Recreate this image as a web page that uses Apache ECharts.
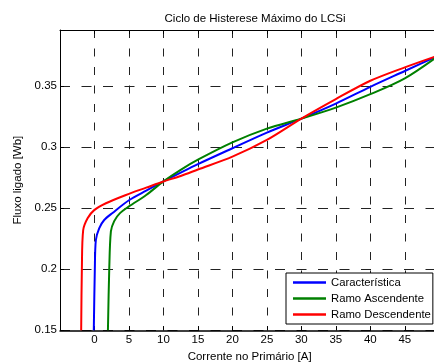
<!DOCTYPE html>
<html>
<head>
<meta charset="utf-8">
<title>Ciclo de Histerese</title>
<script src="https://cdn.jsdelivr.net/npm/echarts@6/dist/echarts.min.js"></script>
<style>
  html, body { margin: 0; padding: 0; background: #fff; }
  #chart { width: 434px; height: 362px; }
</style>
</head>
<body>
<div id="chart"></div>
<script>
// Característica
const caracX = [-0.1, 0.05, 0.2, 0.68, 1.41, 2.62, 5, 7.5, 10, 12.5, 15, 20, 25, 30, 35, 40, 45, 50];
const caracY = [0.15, 0.2, 0.224, 0.2336, 0.2404, 0.2462, 0.2566, 0.2644, 0.272, 0.2792, 0.2862, 0.2992, 0.312, 0.3235, 0.3358, 0.3495, 0.3625, 0.3755];

// Ramo Ascendente
const ascX = [1.95, 2.14, 2.38, 2.86, 3.7, 5, 7.5, 10, 12.5, 15, 20, 25, 30, 35, 40, 45, 50];
const ascY = [0.15, 0.2, 0.231, 0.2395, 0.246, 0.2515, 0.2609, 0.272, 0.2815, 0.2898, 0.304, 0.3153, 0.3235, 0.3325, 0.3435, 0.3565, 0.3755];

// Ramo Descendente
const descX = [-1.93, -1.83, -1.64, -1.0, -0.04, 1.66, 4.56, 7.5, 10, 12.5, 15, 20, 25, 30, 35, 40, 45, 50];
const descY = [0.15, 0.2, 0.232, 0.2418, 0.2485, 0.2541, 0.2609, 0.2669, 0.272, 0.2765, 0.2818, 0.2923, 0.306, 0.3235, 0.3395, 0.3545, 0.3655, 0.3755];

const seriesNames = ['Característica', 'Ramo Ascendente', 'Ramo Descendente'];
const seriesColors = ['#0000ff', '#008000', '#ff0000'];

const xTicks = [0, 5, 10, 15, 20, 25, 30, 35, 40, 45];
const yTicks = [0.15, 0.2, 0.25, 0.3, 0.35];

const FONT = 'Arial, "Liberation Sans", Helvetica, sans-serif';

const toPairs = (xs, ys) => xs.map((x, i) => [x, ys[i]]);
const isTick = (list, v) => list.some(t => Math.abs(t - v) < 1e-6);

const chart = echarts.init(document.getElementById('chart'));

const makeLine = (name, color, xs, ys) => ({
  name: name,
  type: 'line',
  data: toPairs(xs, ys),
  smooth: 0.3,
  symbol: 'none',
  lineStyle: { color: color, width: 2 },
  itemStyle: { color: color },
  emphasis: { disabled: true }
});

const option = {
  animation: false,
  backgroundColor: '#fff',
  title: {
    text: 'Ciclo de Histerese Máximo do LCSi',
    left: 250,
    top: 8,
    textAlign: 'center',
    textStyle: { fontFamily: FONT, fontSize: 11.5, fontWeight: 'normal', color: '#000' }
  },
  grid: {
    left: 60,
    top: 30,
    right: -5.3,
    bottom: 31.7,
    containLabel: false,
    outerBoundsMode: 'none'
  },
  legend: {
    orient: 'vertical',
    left: 286,
    top: 273,
    padding: [3, 2, 3, 7],
    itemGap: 3,
    itemWidth: 33,
    itemHeight: 2.5,
    icon: 'rect',
    backgroundColor: '#fff',
    borderColor: '#000',
    borderWidth: 1,
    borderRadius: 0,
    data: seriesNames,
    textStyle: { fontFamily: FONT, fontSize: 11.3, color: '#000', lineHeight: 13 }
  },
  xAxis: [
    {
      type: 'value',
      min: -5,
      max: 50,
      interval: 5,
      name: 'Corrente no Primário [A]',
      nameLocation: 'middle',
      nameGap: 20,
      nameTextStyle: { fontFamily: FONT, fontSize: 11.5, color: '#000' },
      axisLine: { show: true, onZero: false, lineStyle: { color: '#000', width: 1.5 } },
      axisTick: { show: true, inside: true, length: 4, lineStyle: { color: '#000' } },
      axisLabel: {
        fontFamily: FONT,
        fontSize: 11.5,
        color: '#000',
        margin: 4,
        showMinLabel: false,
        showMaxLabel: false,
        formatter: v => (isTick(xTicks, v) ? String(v) : '')
      },
      splitLine: {
        show: true,
        lineStyle: { color: '#222', width: 1, type: [8, 10.5] }
      }
    },
    {
      type: 'value',
      position: 'top',
      min: -5,
      max: 50,
      interval: 5,
      axisLine: { show: true, onZero: false, lineStyle: { color: '#000', width: 1 } },
      axisTick: { show: true, inside: true, length: 4, lineStyle: { color: '#000' } },
      axisLabel: { show: false },
      splitLine: { show: false }
    }
  ],
  yAxis: {
    type: 'value',
    min: 0.15,
    max: 0.3961,
    interval: 0.05,
    name: 'Fluxo ligado [Wb]',
    nameLocation: 'middle',
    nameGap: 34,
    nameRotate: 90,
    nameTextStyle: { fontFamily: FONT, fontSize: 11.5, color: '#000' },
    axisLine: { show: true, onZero: false, lineStyle: { color: '#000', width: 1 } },
    axisTick: { show: true, inside: true, length: 4, lineStyle: { color: '#000' } },
    axisLabel: {
      fontFamily: FONT,
      fontSize: 11.5,
      color: '#000',
      margin: 3,
      showMaxLabel: false,
      formatter: v => (isTick(yTicks, v) ? String(Math.round(v * 100) / 100) : '')
    },
    splitLine: {
      show: true,
      lineStyle: { color: '#222', width: 1, type: [10, 11.5] }
    }
  },
  series: [
    makeLine(seriesNames[0], seriesColors[0], caracX, caracY),
    makeLine(seriesNames[1], seriesColors[1], ascX, ascY),
    makeLine(seriesNames[2], seriesColors[2], descX, descY)
  ]
};

chart.setOption(option);
</script>
</body>
</html>
